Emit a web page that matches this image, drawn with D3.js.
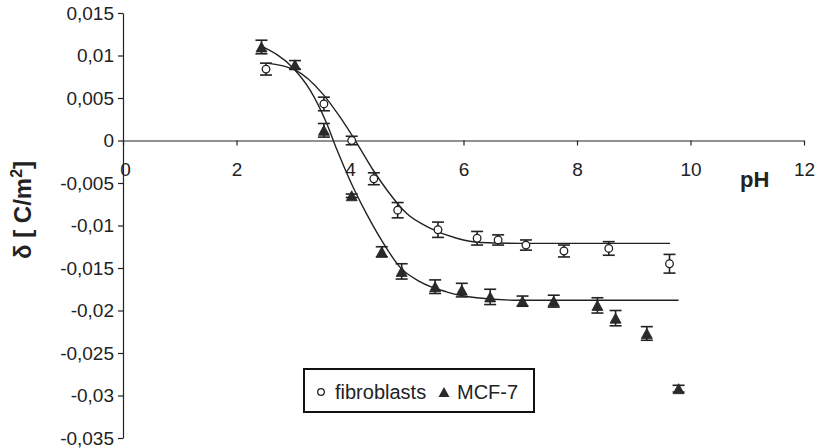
<!DOCTYPE html>
<html>
<head>
<meta charset="utf-8">
<script src="https://cdn.jsdelivr.net/npm/d3@7"></script>
<style>
  body { margin: 0; background: #fff; }
  svg { display: block; font-family: "Liberation Sans", Arial, Helvetica, sans-serif; }
</style>
</head>
<body>
<div id="chart"></div>
<script>
const fibroPH    = [2.52, 3.54, 4.03, 4.42, 4.84, 5.55, 6.24, 6.61, 7.10, 7.77, 8.56, 9.63];
const fibroDelta = [0.0084, 0.0043, 0.0000, -0.0045, -0.0082, -0.0105, -0.0115, -0.0117, -0.0123, -0.0130, -0.0127, -0.0145];
const fibroErr   = [0.0007, 0.0008, 0.0005, 0.0007, 0.0009, 0.0009, 0.0008, 0.0006, 0.0006, 0.0007, 0.0008, 0.0011];

const mcfPH    = [2.44, 3.03, 3.54, 4.03, 4.56, 4.91, 5.50, 5.97, 6.47, 7.04, 7.59, 8.36, 8.68, 9.23, 9.79];
const mcfDelta = [0.0110, 0.0089, 0.0012, -0.0065, -0.0131, -0.0154, -0.0172, -0.0176, -0.0184, -0.0189, -0.0189, -0.0194, -0.0209, -0.0227, -0.0292];
const mcfErr   = [0.0008, 0.0005, 0.0008, 0.0002, 0.0006, 0.0009, 0.0008, 0.0008, 0.0009, 0.0006, 0.0007, 0.0009, 0.0009, 0.0008, 0.0004];

// Fitted curves
const fibroFitPH    = [2.53, 3.03, 3.53, 3.82, 4.12, 4.41, 4.67, 5.00, 5.41, 5.88, 6.30, 7.00, 8.00, 9.64];
const fibroFitDelta = [0.0091, 0.0083, 0.0054, 0.0028, -0.0003, -0.0035, -0.0060, -0.0086, -0.0103, -0.0115, -0.0120, -0.0121, -0.0121, -0.0121];
const mcfFitPH    = [2.44, 3.00, 3.30, 3.59, 3.77, 4.00, 4.29, 4.59, 4.88, 5.23, 5.70, 6.23, 7.00, 9.79];
const mcfFitDelta = [0.0111, 0.0085, 0.0059, 0.0020, -0.0011, -0.0047, -0.0086, -0.0121, -0.0149, -0.0166, -0.0178, -0.0185, -0.0188, -0.0188];

// Axis ticks
const xTicks = [0, 2, 4, 6, 8, 10, 12];
const yTicks = [0.015, 0.01, 0.005, 0, -0.005, -0.01, -0.015, -0.02, -0.025, -0.03, -0.035];
const yTickLabels = ["0,015", "0,01", "0,005", "0", "-0,005", "-0,01", "-0,015", "-0,02", "-0,025", "-0,03", "-0,035"];

const width = 819;
const height = 448;

const svg = d3.select("#chart")
    .append("svg")
    .attr("width", width)
    .attr("height", height);

const x = d3.scaleLinear().domain([0, 12]).range([123, 804]);
const y = d3.scaleLinear().domain([-0.035, 0.015]).range([438, 13]);

// y axis
const yAxis = svg.append("g")
    .attr("transform", `translate(${x(0)},0)`)
    .call(d3.axisLeft(y)
        .tickValues(yTicks)
        .tickSize(5)
        .tickSizeOuter(0)
        .tickPadding(4)
        .tickFormat((d, i) => yTickLabels[i]));
yAxis.selectAll("text").attr("font-size", 19).attr("fill", "#222").attr("font-family", null);

// x axis through zero
const xAxis = svg.append("g")
    .attr("transform", `translate(0,${y(0)})`)
    .call(d3.axisBottom(x)
        .tickValues(xTicks)
        .tickSize(5)
        .tickSizeOuter(0)
        .tickFormat(d3.format("d")));
xAxis.selectAll("text")
    .attr("font-size", 19)
    .attr("fill", "#222")
    .attr("font-family", null)
    .attr("y", 35)
    .attr("dy", 0);
xAxis.selectAll("text").filter(d => d === 0).attr("dx", 2);

svg.selectAll(".domain, .tick line").attr("stroke", "#222").attr("stroke-width", 1.2);

// axis titles
svg.append("text")
    .attr("x", 740)
    .attr("y", 187)
    .attr("font-size", 22)
    .attr("font-weight", "bold")
    .attr("fill", "#222")
    .text("pH");

const yTitle = svg.append("text")
    .attr("transform", "translate(31,210) rotate(-90)")
    .attr("text-anchor", "middle")
    .attr("font-size", 24)
    .attr("font-weight", "bold")
    .attr("fill", "#222");
yTitle.append("tspan").text("δ [ C/m");
yTitle.append("tspan").attr("font-size", 16).attr("dy", -9).text("2");
yTitle.append("tspan").attr("dy", 9).text("]");

// fit lines
const line = d3.line()
    .x(d => x(d[0]))
    .y(d => y(d[1]))
    .curve(d3.curveMonotoneX);

svg.append("path")
    .datum(d3.zip(fibroFitPH, fibroFitDelta))
    .attr("d", line)
    .attr("fill", "none")
    .attr("stroke", "#222")
    .attr("stroke-width", 1.4);

svg.append("path")
    .datum(d3.zip(mcfFitPH, mcfFitDelta))
    .attr("d", line)
    .attr("fill", "none")
    .attr("stroke", "#222")
    .attr("stroke-width", 1.4);

// error bars
function errorBars(xs, ys, es) {
    const g = svg.append("g").attr("stroke", "#222").attr("stroke-width", 1.6);
    const data = d3.zip(xs, ys, es);
    g.selectAll(".v").data(data).enter().append("line")
        .attr("x1", d => x(d[0])).attr("x2", d => x(d[0]))
        .attr("y1", d => y(d[1] + d[2])).attr("y2", d => y(d[1] - d[2]));
    g.selectAll(".t").data(data).enter().append("line")
        .attr("x1", d => x(d[0]) - 6).attr("x2", d => x(d[0]) + 6)
        .attr("y1", d => y(d[1] + d[2])).attr("y2", d => y(d[1] + d[2]));
    g.selectAll(".b").data(data).enter().append("line")
        .attr("x1", d => x(d[0]) - 6).attr("x2", d => x(d[0]) + 6)
        .attr("y1", d => y(d[1] - d[2])).attr("y2", d => y(d[1] - d[2]));
}
errorBars(fibroPH, fibroDelta, fibroErr);
errorBars(mcfPH, mcfDelta, mcfErr);

// markers
function triPath(cx, cy, w, h) {
    return `M${cx},${cy - h / 2}L${cx + w / 2},${cy + h / 2}L${cx - w / 2},${cy + h / 2}Z`;
}

svg.selectAll(".fibro")
    .data(d3.zip(fibroPH, fibroDelta))
    .enter().append("circle")
    .attr("class", "fibro")
    .attr("cx", d => x(d[0]))
    .attr("cy", d => y(d[1]))
    .attr("r", 3.8)
    .attr("fill", "#fff")
    .attr("stroke", "#222")
    .attr("stroke-width", 1.3);

svg.selectAll(".mcf")
    .data(d3.zip(mcfPH, mcfDelta))
    .enter().append("path")
    .attr("class", "mcf")
    .attr("d", d => triPath(x(d[0]), y(d[1]), 11, 10))
    .attr("fill", "#2a2a2a")
    .attr("stroke", "#222")
    .attr("stroke-width", 0.8);

// legend
const legend = svg.append("g");
legend.append("rect")
    .attr("x", 304).attr("y", 369)
    .attr("width", 230).attr("height", 43)
    .attr("fill", "#fff")
    .attr("stroke", "#111")
    .attr("stroke-width", 2);
legend.append("circle")
    .attr("cx", 321).attr("cy", 392).attr("r", 3.3)
    .attr("fill", "#fff").attr("stroke", "#222").attr("stroke-width", 1.3);
legend.append("text")
    .attr("x", 335).attr("y", 399)
    .attr("font-size", 20).attr("fill", "#222")
    .text("fibroblasts");
legend.append("path")
    .attr("d", triPath(444, 392, 11, 10))
    .attr("fill", "#2a2a2a");
legend.append("text")
    .attr("x", 457).attr("y", 399)
    .attr("font-size", 20).attr("fill", "#222")
    .text("MCF-7");
</script>
</body>
</html>
